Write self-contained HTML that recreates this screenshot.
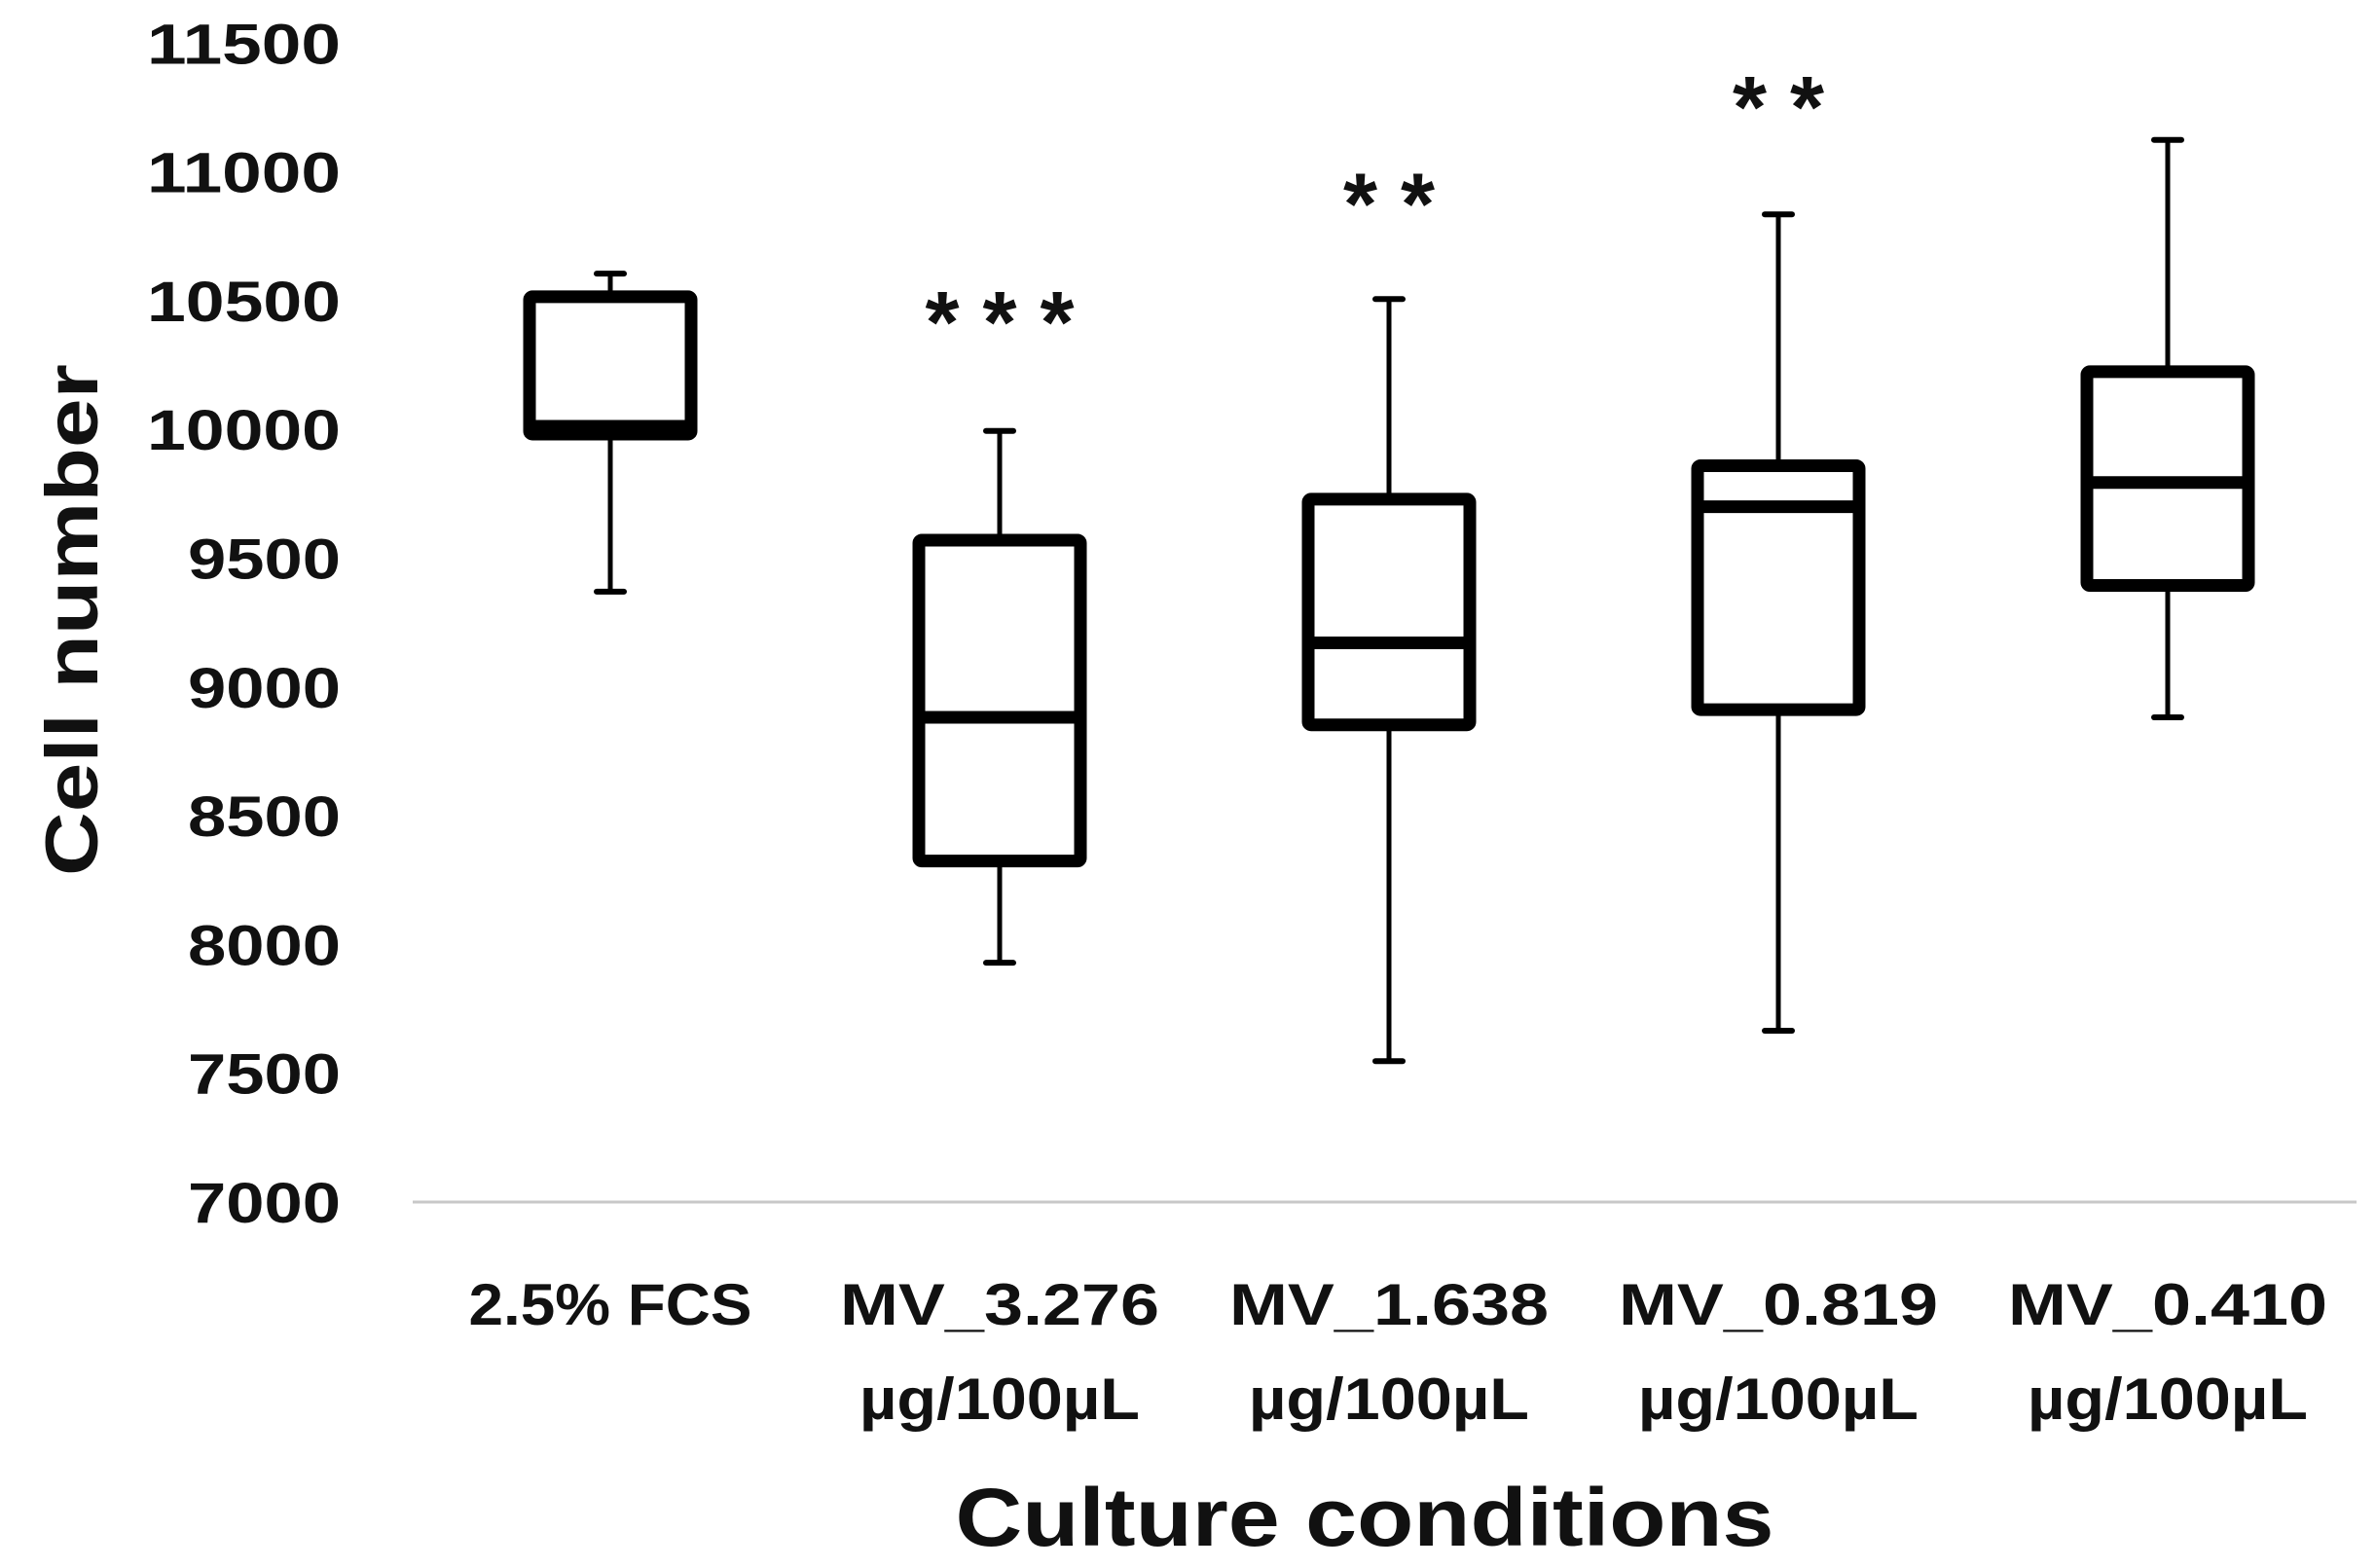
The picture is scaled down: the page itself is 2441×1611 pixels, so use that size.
<!DOCTYPE html>
<html><head><meta charset="utf-8"><style>
html,body{margin:0;padding:0;background:#fff;}
svg{display:block;}
text{font-family:"Liberation Sans",sans-serif;font-weight:bold;fill:#111;}
</style></head><body>
<svg id="chart" width="2441" height="1611" viewBox="0 0 2441 1611" xmlns="http://www.w3.org/2000/svg">
<g id="yticks"></g>
<line x1="424" y1="1235" x2="2421" y2="1235" stroke="#c8c8c8" stroke-width="3"/>
<g id="boxes"></g>
<g id="xlabels"></g>
<text transform="translate(100,637) rotate(-90)" text-anchor="middle" font-size="76" textLength="526" lengthAdjust="spacingAndGlyphs">Cell number</text>
<text x="1402" y="1588" text-anchor="middle" font-size="84" textLength="841" lengthAdjust="spacingAndGlyphs">Culture conditions</text>
</svg>
<script>
const categories = ["2.5% FCS","MV_3.276","MV_1.638","MV_0.819","MV_0.410"];
const subLabels = ["","µg/100µL","µg/100µL","µg/100µL","µg/100µL"];
const whiskerHigh = [10605,9994,10506,10835,11124];
const q3 = [10515,9570,9729,9859,10224];
const median = [10012,8882,9171,9700,9794];
const q1 = [9982,8324,8853,8912,9394];
const whiskerLow = [9370,7929,7547,7665,8882];
const stars = ["","***","**","**",""];
const starValues = [0,10450,10910,11285,0];
const yTicks = [7000,7500,8000,8500,9000,9500,10000,10500,11000,11500];

const NS="http://www.w3.org/2000/svg";
const y0=1235, yPer=132.3/500;
function yScale(v){return y0-(v-7000)*yPer;}
const xStart=627, xStep=400;
function xScale(i){return xStart+i*xStep;}
function mk(tag,attrs,parent){const e=document.createElementNS(NS,tag);for(const k in attrs)e.setAttribute(k,attrs[k]);parent.appendChild(e);return e;}

const yt=document.getElementById('yticks');
yTicks.forEach(v=>{
  const t=mk('text',{x:350,y:yScale(v)+21,'text-anchor':'end','font-size':58,textLength:(v>=10000?199:157),lengthAdjust:'spacingAndGlyphs'},yt);
  
  
  t.textContent=v;
});

const bx=document.getElementById('boxes');
const hw=83, sw=13;
categories.forEach((c,i)=>{
  const cx=xScale(i);
  const g=mk('g',{},bx);
  
  
  const yH=yScale(whiskerHigh[i]), yQ3=yScale(q3[i]), yM=yScale(median[i]), yQ1=yScale(q1[i]), yL=yScale(whiskerLow[i]);
  const w1=mk('line',{x1:cx,y1:yH,x2:cx,y2:yQ3,stroke:'#000','stroke-width':5},g);
  
  
  const w2=mk('line',{x1:cx,y1:yQ1,x2:cx,y2:yL,stroke:'#000','stroke-width':5},g);
  
  
  const c1=mk('line',{x1:cx-14,y1:yH,x2:cx+14,y2:yH,stroke:'#000','stroke-width':6,'stroke-linecap':'round'},g);
  
  
  const c2=mk('line',{x1:cx-14,y1:yL,x2:cx+14,y2:yL,stroke:'#000','stroke-width':6,'stroke-linecap':'round'},g);
  
  
  const r=mk('rect',{x:cx-hw,y:yQ3,width:hw*2,height:yQ1-yQ3,fill:'none',stroke:'#000','stroke-width':sw,rx:3},g);
  
  
  const m=mk('line',{x1:cx-hw,y1:yM,x2:cx+hw,y2:yM,stroke:'#000','stroke-width':sw},g);
  
  
  if(stars[i]){
    const s=mk('text',{x:cx+12,y:yScale(starValues[i])+40,'text-anchor':'middle','font-size':90,'font-weight':'normal','letter-spacing':24},g);
    
    
    s.textContent=stars[i];
  }
});

const xl=document.getElementById('xlabels');
categories.forEach((c,i)=>{
  const cx=xScale(i);
  const t=mk('text',{x:cx,y:1361,'text-anchor':'middle','font-size':60,textLength:(i==0?291:328),lengthAdjust:'spacingAndGlyphs'},xl);
  
  
  t.textContent=c;
  if(subLabels[i]){
    const t2=mk('text',{x:cx,y:1458,'text-anchor':'middle','font-size':60,textLength:288,lengthAdjust:'spacingAndGlyphs'},xl);
    
    
    t2.textContent=subLabels[i];
  }
});
</script>
</body></html>
